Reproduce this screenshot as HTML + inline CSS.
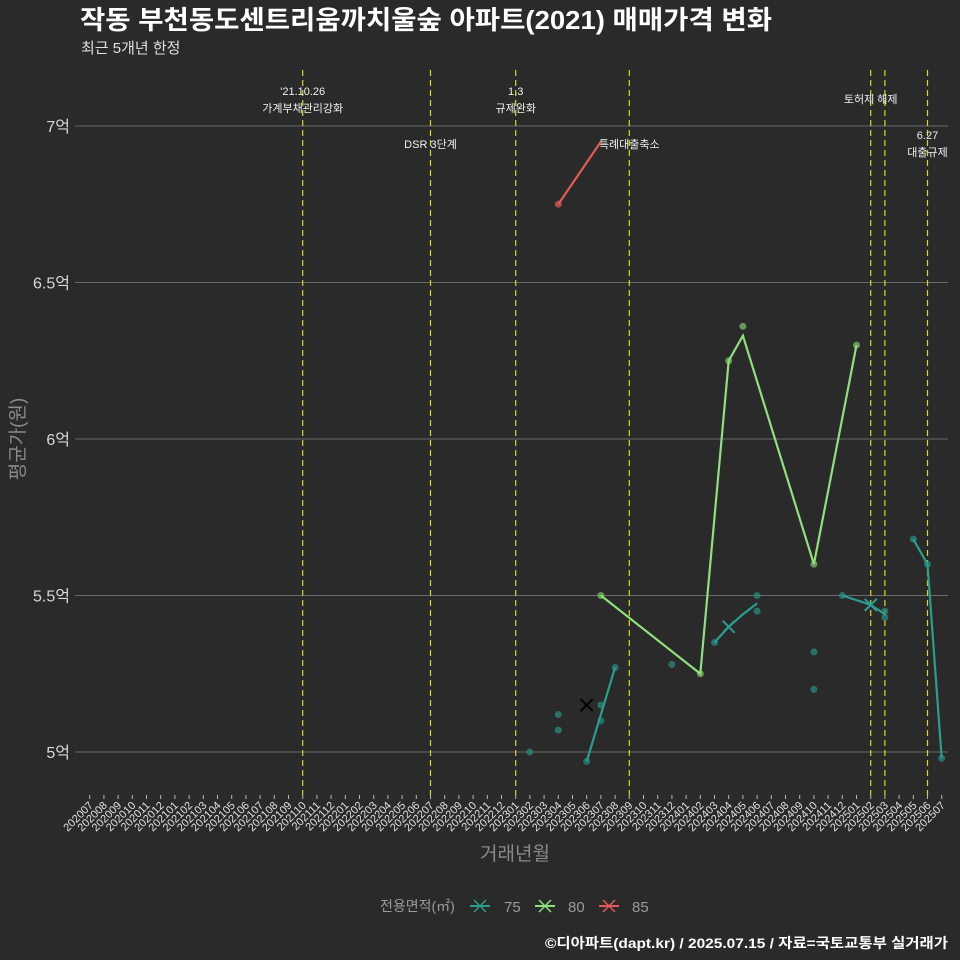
<!DOCTYPE html>
<html><head><meta charset="utf-8"><style>
body{margin:0;background:#2a2a2a;}
svg{display:block;font-family:"Liberation Sans","Noto Sans CJK KR",sans-serif;}
</style></head><body>
<svg id="chart" width="960" height="960" viewBox="0 0 960 960">
<rect x="0" y="0" width="960" height="960" fill="#2a2a2a"/>
<text x="80" y="29" fill="#ffffff" font-size="26" font-weight="bold" textLength="692" lengthAdjust="spacingAndGlyphs">작동 부천동도센트리움까치울숲 아파트(2021) 매매가격 변화</text>
<text x="81" y="53" fill="#e0e0e0" font-size="15">최근 5개년 한정</text>
<g id="grid"></g>
<g id="vlines"></g>
<g id="xaxis"></g>
<g id="yaxis"></g>
<g id="marks"></g>
<text x="515" y="860" fill="#8a8a8a" font-size="19" text-anchor="middle">거래년월</text>
<text transform="translate(24,439) rotate(-90)" fill="#8a8a8a" font-size="19" text-anchor="middle">평균가(원)</text>
<g>
<text x="380" y="911" fill="#9a9a9a" font-size="14">전용면적(㎡)</text>
<g><line x1="470" y1="906" x2="490" y2="906" stroke="#2a9d8f" stroke-width="2"/><path d="M474 900 L486 912 M486 900 L474 912" stroke="#2a9d8f" stroke-width="1.5"/><text x="504" y="912" fill="#9a9a9a" font-size="15">75</text></g>
<g><line x1="535" y1="906" x2="555" y2="906" stroke="#8fe07a" stroke-width="2"/><path d="M539 900 L551 912 M551 900 L539 912" stroke="#8fe07a" stroke-width="1.5"/><text x="568" y="912" fill="#9a9a9a" font-size="15">80</text></g>
<g><line x1="599" y1="906" x2="619" y2="906" stroke="#e05a5a" stroke-width="2"/><path d="M603 900 L615 912 M615 900 L603 912" stroke="#e05a5a" stroke-width="1.5"/><text x="632" y="912" fill="#9a9a9a" font-size="15">85</text></g>
</g>
<text x="948" y="948" fill="#ffffff" font-size="14" font-weight="bold" text-anchor="end" textLength="403" lengthAdjust="spacingAndGlyphs">©디아파트(dapt.kr) / 2025.07.15 / 자료=국토교통부 실거래가</text>
</svg>
<script>
const months=[];for(let y=2020;y<=2025;y++)for(let m=1;m<=12;m++){const s=y+String(m).padStart(2,'0');if(s>='202007'&&s<='202507')months.push(s);}
const yTicks=[5,5.5,6,6.5,7];
const yTickLabels=['5억','5.5억','6억','6.5억','7억'];
const policyMonths=['202110','202207','202301','202309','202502','202503','202506'];
const line75Months=['202306','202307','202308','202403','202404','202405','202406','202412','202502','202503','202505','202506','202507'];
const line75Values=[4.97,5.12,5.27,5.35,5.40,5.44,5.475,5.50,5.47,5.44,5.68,5.60,4.98];
const line75Segments=[3,4,3,3];
const pts75Months=['202302','202304','202304','202306','202307','202307','202308','202312','202403','202406','202406','202410','202410','202412','202503','202503','202505','202506','202507'];
const pts75Values=[5.00,5.12,5.07,4.97,5.15,5.10,5.27,5.28,5.35,5.50,5.45,5.32,5.20,5.50,5.45,5.43,5.68,5.60,4.98];
const cross75Months=['202306','202404','202502'];
const cross75Values=[5.15,5.40,5.47];
const line80Months=['202307','202402','202404','202405','202410','202501'];
const line80Values=[5.50,5.25,6.25,6.33,5.60,6.30];
const pts80Values=[5.50,5.25,6.25,6.36,5.60,6.30];
const line85Months=['202304','202307'];
const line85Values=[6.75,6.95];
const annotations=[['202110',["'21.10.26","가계부채관리강화"],95],['202207',["DSR 3단계"],148],['202301',["1.3","규제완화"],95],['202309',["특례대출축소"],148],['202502',["토허제 해제"],103],['202506',["6.27","대출규제"],139]];
const NS='http://www.w3.org/2000/svg';
const xS=m=>89.7+14.2*months.indexOf(m);
const yS=v=>752-(v-5)*313;
function mk(t,a,p){const e=document.createElementNS(NS,t);for(const k in a)e.setAttribute(k,a[k]);p.appendChild(e);return e;}
const grid=document.getElementById('grid'),vl=document.getElementById('vlines'),xa=document.getElementById('xaxis'),ya=document.getElementById('yaxis'),mks=document.getElementById('marks');
yTicks.forEach((v,i)=>{const l=mk('line',{x1:75,x2:948,y1:yS(v),y2:yS(v),stroke:'#6a6a6a','stroke-width':1},grid);


const t=mk('text',{x:70,y:yS(v)+6,fill:'#d8d8d8','font-size':16,'text-anchor':'end'},ya);t.textContent=yTickLabels[i];

});
months.forEach(m=>{const x=xS(m);mk('line',{x1:x,x2:x,y1:795,y2:799,stroke:'#bbb','stroke-width':1},xa);
const t=mk('text',{x:x+4,y:806,fill:'#e0e0e0','font-size':11,'text-anchor':'end',transform:`rotate(-45 ${x+4} 806)`},xa);t.textContent=m;

});
policyMonths.forEach(m=>{const l=mk('line',{x1:xS(m),x2:xS(m),y1:70,y2:795,stroke:'#d8d820','stroke-width':1.2,'stroke-dasharray':'6 4'},vl);

});
annotations.forEach(a=>{a[1].forEach((s,i)=>{const t=mk('text',{x:xS(a[0]),y:a[2]+i*17,fill:'#f0f0f0','font-size':11,'text-anchor':'middle'},vl);t.textContent=s;

});});
function poly(ms,vs,col,name){const p=mk('polyline',{points:ms.map((m,i)=>xS(m)+','+yS(vs[i])).join(' '),fill:'none',stroke:col,'stroke-width':2.2},mks);

}
function dots(ms,vs,col,name){ms.forEach((m,i)=>{const c=mk('circle',{cx:xS(m),cy:yS(vs[i]),r:3.5,fill:col,'fill-opacity':0.7},mks);

});}
dots(pts75Months,pts75Values,'#2a8f85','point-75');
let s=0;line75Segments.forEach(n=>{poly(line75Months.slice(s,s+n),line75Values.slice(s,s+n),'#2a9d8f','line-75');s+=n;});
cross75Months.forEach((m,i)=>{const x=xS(m),y=yS(cross75Values[i]);const p=mk('path',{d:`M${x-6} ${y-6}L${x+6} ${y+6}M${x+6} ${y-6}L${x-6} ${y+6}`,stroke:i==0?'#000':'#2a9d8f','stroke-width':2},mks);

});
dots(line80Months,pts80Values,'#7ec86a','point-80');
poly(line80Months,line80Values,'#8fe07a','line-80');
poly(line85Months,line85Values,'#e05a5a','line-85');
dots(line85Months.slice(0,1),line85Values.slice(0,1),'#e05a5a','point-85');
</script>
</body></html>
